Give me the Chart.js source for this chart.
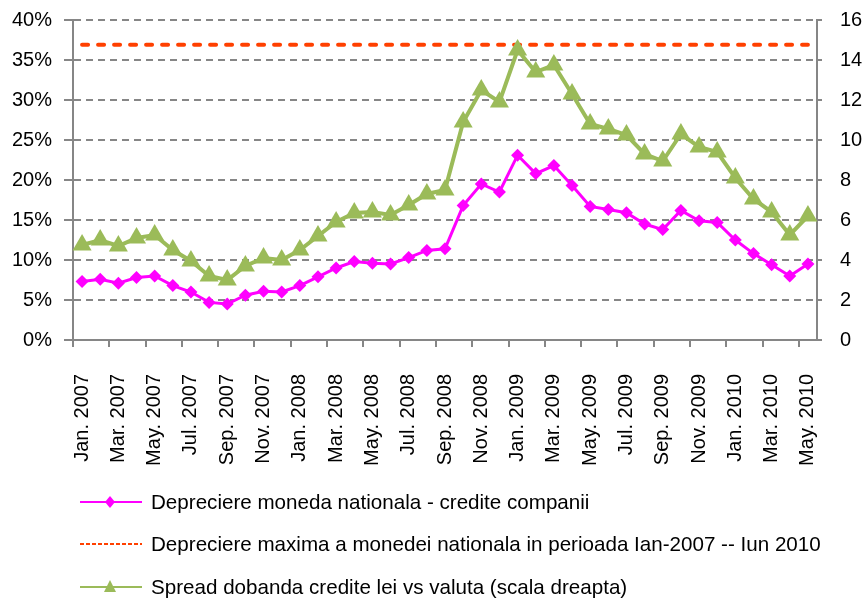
<!DOCTYPE html>
<html>
<head>
<meta charset="utf-8">
<script src="https://cdn.jsdelivr.net/npm/chart.js@4.4.1/dist/chart.umd.min.js"></script>
<style>
  html, body { margin: 0; padding: 0; background: #fff; }
</style>
</head>
<body>
<canvas id="myChart" width="867" height="599"></canvas>
<script>
const months = [
  "Jan. 2007", "Feb. 2007", "Mar. 2007", "Apr. 2007", "May. 2007", "Jun. 2007",
  "Jul. 2007", "Aug. 2007", "Sep. 2007", "Oct. 2007", "Nov. 2007", "Dec. 2007",
  "Jan. 2008", "Feb. 2008", "Mar. 2008", "Apr. 2008", "May. 2008", "Jun. 2008",
  "Jul. 2008", "Aug. 2008", "Sep. 2008", "Oct. 2008", "Nov. 2008", "Dec. 2008",
  "Jan. 2009", "Feb. 2009", "Mar. 2009", "Apr. 2009", "May. 2009", "Jun. 2009",
  "Jul. 2009", "Aug. 2009", "Sep. 2009", "Oct. 2009", "Nov. 2009", "Dec. 2009",
  "Jan. 2010", "Feb. 2010", "Mar. 2010", "Apr. 2010", "May. 2010",
];

// depreciere moneda nationala - credite companii (%)
const depreciere = [
  7.3, 7.6, 7.1, 7.8, 8.0, 6.8, 6.0, 4.7, 4.5, 5.6, 6.1, 6.0,
  6.8, 7.9, 9.0, 9.8, 9.6, 9.5, 10.3, 11.2, 11.4, 16.8, 19.5, 18.5,
  23.1, 20.8, 21.8, 19.3, 16.7, 16.3, 15.9, 14.5, 13.8, 16.2, 14.9, 14.7,
  12.5, 10.8, 9.4, 8.0, 9.5,
];

// spread dobanda credite lei vs valuta (scala dreapta)
const spread = [
  4.75, 5.0, 4.7, 5.1, 5.25, 4.5, 3.95, 3.2, 3.0, 3.7, 4.1, 4.0,
  4.5, 5.2, 5.9, 6.35, 6.4, 6.25, 6.75, 7.3, 7.5, 10.9, 12.5, 11.9,
  14.5, 13.4, 13.75, 12.3, 10.8, 10.55, 10.25, 9.3, 8.95, 10.3, 9.65, 9.4,
  8.1, 7.05, 6.4, 5.25, 6.2,
];

// depreciere maxima in perioada (%)
const deprecMax = 36.9;

const labelDep = "Depreciere moneda nationala - credite companii";
const labelMax = "Depreciere maxima a monedei nationala in perioada Ian-2007 -- Iun 2010";
const labelSpread = "Spread dobanda credite lei vs valuta (scala dreapta)";

const gray = "#868686";

Chart.defaults.font.family = "'Liberation Sans', Arial, sans-serif";
Chart.defaults.font.size = 20;
Chart.defaults.color = "#000";

// legend at the bottom, drawn like the excel one (line + marker)
const legendPlugin = {
  id: "excel_legend",
  afterDraw: (chart) => {
    const ctx = chart.ctx;
    const rows = [502, 544, 587];
    chart.data.datasets.forEach((ds, i) => {
      const y = rows[i];
      ctx.save();
      ctx.strokeStyle = ds.borderColor;
      ctx.lineWidth = 2;
      if (ds.borderDash) ctx.setLineDash([4, 2]);
      ctx.beginPath();
      ctx.moveTo(80, y);
      ctx.lineTo(142, y);
      ctx.stroke();
      ctx.setLineDash([]);
      ctx.fillStyle = ds.borderColor;
      if (ds.pointStyle === "rectRot") {
        ctx.beginPath();
        ctx.moveTo(110, y - 6);
        ctx.lineTo(115, y);
        ctx.lineTo(110, y + 6);
        ctx.lineTo(105, y);
        ctx.closePath();
        ctx.fill();
      } else if (ds.pointStyle === "triangle") {
        ctx.beginPath();
        ctx.moveTo(110, y - 7);
        ctx.lineTo(116, y + 5);
        ctx.lineTo(104, y + 5);
        ctx.closePath();
        ctx.fill();
      }
      ctx.fillStyle = "#000";
      ctx.font = "20.6px 'Liberation Sans', Arial, sans-serif";
      ctx.textBaseline = "middle";
      ctx.textAlign = "left";
      ctx.fillText(ds.label, 151, y + 1);
      ctx.restore();
    });
  },
};

const config = {
  type: "line",
  data: {
    labels: months,
    datasets: [
      {
        label: labelDep,
        data: depreciere,
        yAxisID: "y",
        borderColor: "#ff00ff",
        backgroundColor: "#ff00ff",
        borderWidth: 3,
        pointStyle: "rectRot",
        pointRadius: 6.5,
        pointBorderWidth: 0,
        pointBackgroundColor: "#ff00ff",
        tension: 0,
        order: 3,
      },
      {
        label: labelMax,
        data: months.map(() => deprecMax),
        yAxisID: "y",
        borderColor: "#ff4000",
        backgroundColor: "#ff4000",
        borderWidth: 4,
        borderDash: [6, 10],
        borderCapStyle: "round",
        pointRadius: 0,
        tension: 0,
        order: 2,
      },
      {
        label: labelSpread,
        data: spread,
        yAxisID: "y1",
        borderColor: "#9bbb59",
        backgroundColor: "#9bbb59",
        borderWidth: 4,
        pointStyle: "triangle",
        pointRadius: 11,
        pointBorderWidth: 0,
        pointBackgroundColor: "#9bbb59",
        tension: 0,
        order: 1,
      },
    ],
  },
  options: {
    responsive: false,
    animation: false,
    layout: {
      padding: { top: 20, left: 0, right: 0, bottom: 0 },
    },
    scales: {
      x: {
        offset: true,
        afterFit: (scale) => {
          scale.height = 259;
        },
        grid: {
          offset: true,
          drawOnChartArea: false,
          tickLength: 7,
          lineWidth: 2,
          color: (c) => (c.index % 2 === 0 ? gray : "rgba(0,0,0,0)"),
        },
        border: { color: gray, width: 2 },
        ticks: {
          autoSkip: false,
          minRotation: 90,
          maxRotation: 90,
          padding: 27,
          callback: function (value, index) {
            return index % 2 === 0 ? this.getLabelForValue(value) : "";
          },
        },
      },
      y: {
        position: "left",
        min: 0,
        max: 40,
        afterFit: (scale) => {
          scale.width = 73;
          scale.paddingTop = 0;
          scale.paddingBottom = 0;
        },
        ticks: {
          stepSize: 5,
          padding: 12,
          callback: (v) => v + "%",
        },
        grid: {
          color: gray,
          lineWidth: 2,
          tickLength: 9,
          tickBorderDash: [],
        },
        border: { color: gray, width: 2, dash: [7, 5] },
      },
      y1: {
        position: "right",
        min: 0,
        max: 16,
        afterFit: (scale) => {
          scale.width = 50;
          scale.paddingTop = 0;
          scale.paddingBottom = 0;
        },
        ticks: {
          stepSize: 2,
          padding: 18,
        },
        grid: {
          drawOnChartArea: false,
          color: gray,
          lineWidth: 2,
          tickLength: 5,
        },
        border: { color: gray, width: 2 },
      },
    },
    plugins: {
      legend: { display: false },
      tooltip: { enabled: false },
    },
  },
  plugins: [legendPlugin],
};

const myChart = new Chart(document.getElementById("myChart"), config);
</script>
</body>
</html>
